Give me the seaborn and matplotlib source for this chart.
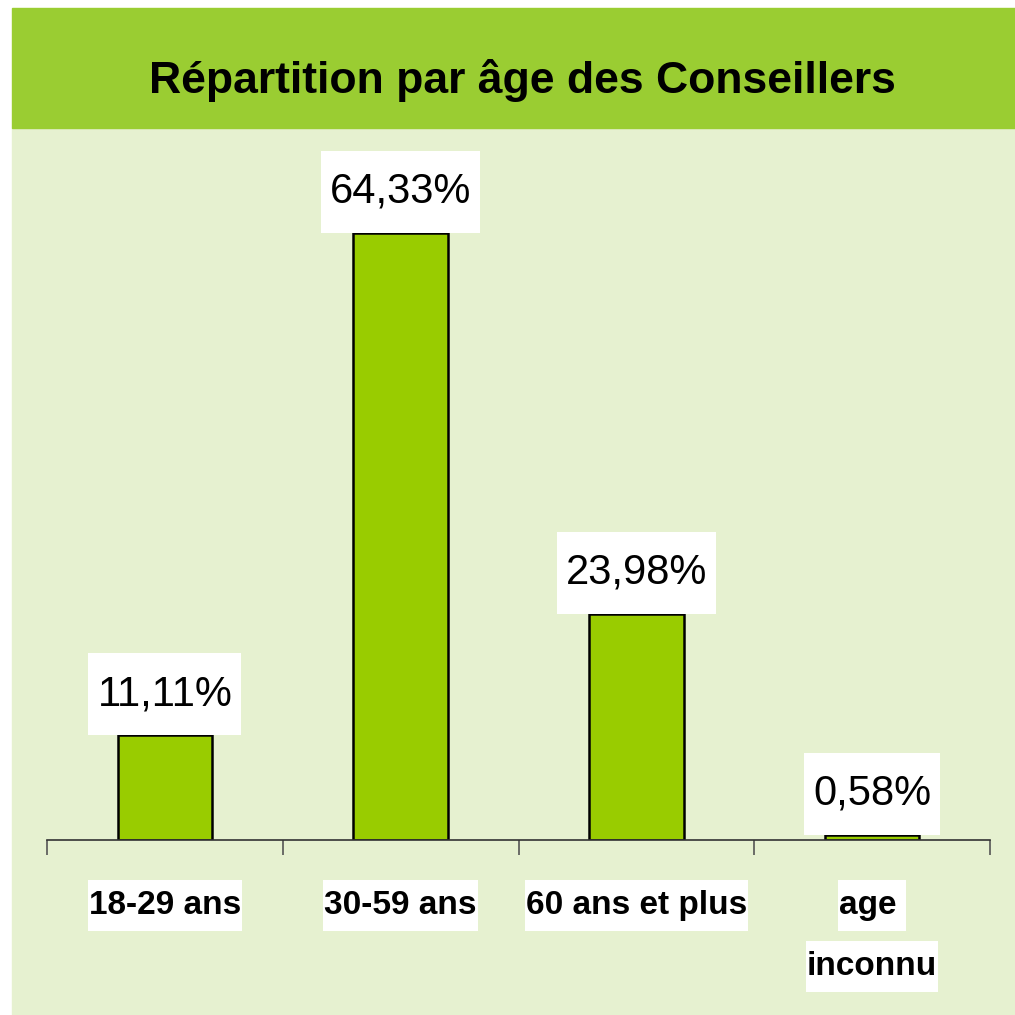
import matplotlib
matplotlib.use("Agg")
import matplotlib.pyplot as plt
from matplotlib.path import Path
from matplotlib.patches import Rectangle
from matplotlib import font_manager
import seaborn as sns

categories = ["18-29 ans", "30-59 ans", "60 ans et plus", "age "]
second_line = ["", "", "", "inconnu"]
values = [11.11, 64.33, 23.98, 0.58]
value_labels = ["11,11%", "64,33%", "23,98%", "0,58%"]
title = "Répartition par âge des Conseillers"

names = {f.name for f in font_manager.fontManager.ttflist}
narrow = "Liberation Sans Narrow" if "Liberation Sans Narrow" in names else "Liberation Sans"

sns.set_style("white")
plt.rcParams["font.family"] = [narrow, "DejaVu Sans"]
plt.rcParams["text.color"] = "black"
plt.rcParams["xtick.labelcolor"] = "black"

BAR = "#99cc00"
BAND = "#9acd32"
BG = "#e6f1d0"


def make_box(px, py):
    def box(x0, y0, width, height, mutation_size):
        dx, dy = px * mutation_size, py * mutation_size
        x0, y0 = x0 - dx, y0 - dy
        x1, y1 = x0 + width + 2 * dx, y0 + height + 2 * dy
        return Path([(x0, y0), (x1, y0), (x1, y1), (x0, y1), (x0, y0)], closed=True)
    return box


fig = plt.figure(figsize=(10.15, 10.15), dpi=100)
fig.patch.set_facecolor("white")
W = H = 1015
fig.patches.append(Rectangle((12 / W, 0), 1 - 12 / W, 1 - 128 / H,
                             transform=fig.transFigure, color=BG, zorder=-5))
fig.patches.append(Rectangle((12 / W, 1 - 128 / H), 1 - 12 / W, 120 / H,
                             transform=fig.transFigure, color=BAND, zorder=-5))
fig.text(522 / W, 1 - 80 / H, title, ha="center", va="center",
         fontsize=32, fontweight="bold", color="black")

ax = fig.add_axes([47 / W, 1 - 840 / H, 943 / W, 690 / H])
ax.set_facecolor("none")
sns.barplot(x=list(range(len(values))), y=values, color=BAR, width=0.4,
            edgecolor="black", linewidth=1.8, saturation=1, ax=ax)
ax.set_xlim(-0.5, len(values) - 0.5)
ax.set_ylim(0, 73.1)

fs = 30
bars = ax.containers[0]
ax.bar_label(bars, labels=value_labels, padding=0.5 * fs, fontsize=fs, color="black",
             bbox=dict(boxstyle=make_box(0.22, 0.5), fc="white", ec="none"))

for s in ["top", "right", "left"]:
    ax.spines[s].set_visible(False)
ax.spines["bottom"].set_color("#333333")
ax.spines["bottom"].set_linewidth(1.2)
ax.set_yticks([])
ax.set_xticks([i - 0.5 for i in range(len(values) + 1)])
ax.set_xticklabels([])
ax.tick_params(axis="x", which="major", direction="out", length=11,
               width=1.2, color="#555555", bottom=True)
cfs = 24
ax.set_xticks(range(len(values)), minor=True)
ax.set_xticklabels(categories, minor=True, fontsize=cfs, fontweight="bold")
ax.tick_params(axis="x", which="minor", length=0, pad=36, labelcolor="black")
for lab in ax.get_xticklabels(minor=True):
    lab.set_bbox(dict(boxstyle=make_box(0.03, 0.3), fc="white", ec="none"))
for i, t in enumerate(second_line):
    if t:
        ax.annotate(t, xy=(i, 0), xycoords=("data", "axes fraction"),
                    xytext=(0, -80), textcoords="offset points",
                    ha="center", va="top", fontsize=cfs, fontweight="bold",
                    color="black",
                    bbox=dict(boxstyle=make_box(0.03, 0.3), fc="white", ec="none"))

fig.savefig("out.png", dpi=100, facecolor=fig.get_facecolor())
